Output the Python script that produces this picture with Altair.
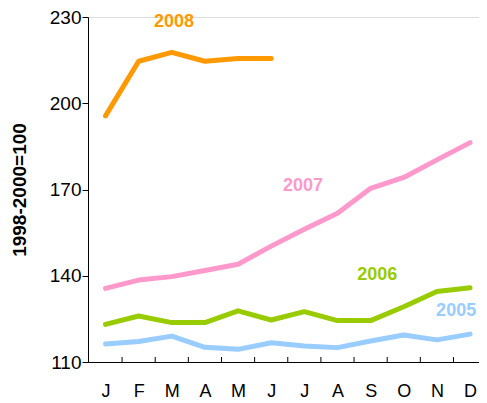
import altair as alt
import pandas as pd

months = ["J", "F", "M", "A", "M", "J", "J", "A", "S", "O", "N", "D"]
month_idx = list(range(12))

years = ["2005", "2006", "2007", "2008"]
colors = ["#99CCFF", "#99CC00", "#FF99CC", "#FF9900"]

v2005 = [116.3, 117.1, 119.0, 115.1, 114.4, 116.7, 115.6, 115.0, 117.3, 119.4, 117.7, 119.7]
v2006 = [123.1, 126.0, 123.7, 123.7, 127.8, 124.6, 127.5, 124.4, 124.4, 129.2, 134.5, 135.8]
v2007 = [135.6, 138.5, 139.7, 141.8, 144.0, 150.3, 156.2, 161.7, 170.4, 174.2, 180.3, 186.3]
v2008 = [195.6, 214.6, 217.7, 214.6, 215.6, 215.6]

label_text = ["2005", "2006", "2007", "2008"]
label_x = [10.58, 8.2, 5.96, 2.07]
label_y = [127.7, 140.1, 171.2, 228.3]

y_ticks = [110, 140, 170, 200, 230]
tick_bounds = [i + 0.5 for i in range(11)]

rows = []
for yr, vals in zip(years, [v2005, v2006, v2007, v2008]):
    for m, v in zip(month_idx, vals):
        rows.append({"year": yr, "m": m, "value": v})
df = pd.DataFrame(rows)

labels_df = pd.DataFrame({"year": label_text, "x": label_x, "y": label_y})
ticks_df = pd.DataFrame({"b": tick_bounds})

FONT = "Liberation Sans"
W, H = 391, 345

xscale = alt.Scale(domain=[-0.528, 11.27], nice=False, zero=False)
yscale = alt.Scale(domain=[110, 230], nice=False, zero=False)
cscale = alt.Scale(domain=years, range=colors)

label_expr = "[" + ",".join("'%s'" % m for m in months) + "][datum.value]"

xaxis = alt.Axis(values=month_idx, labelExpr=label_expr, ticks=False, grid=False,
                 title=None, labelFontSize=18, labelFont=FONT, labelColor="#000",
                 labelPadding=20, domainColor="#000", labelFlush=False,
                 labelOverlap=False, labelBound=False)
yaxis = alt.Axis(values=y_ticks, grid=False, tickSize=6, tickColor="#000",
                 domainColor="#000", labelFontSize=19, labelFont=FONT,
                 labelColor="#000", labelPadding=1, labelOverlap=False,
                 title="1998-2000=100", titleFont=FONT, titleFontSize=19,
                 titleFontWeight="bold", titleColor="#000", titlePadding=20)

lines = alt.Chart(df).mark_line(strokeWidth=5, strokeJoin="round", strokeCap="round").encode(
    x=alt.X("m:Q", scale=xscale, axis=xaxis),
    y=alt.Y("value:Q", scale=yscale, axis=yaxis),
    color=alt.Color("year:N", scale=cscale, legend=None),
    detail="year:N",
)

xticks = alt.Chart(ticks_df).mark_rule(color="#000", strokeWidth=1).encode(
    x=alt.X("b:Q", scale=xscale, axis=xaxis),
    y=alt.value(H),
    y2=alt.value(H - 5),
)

texts = alt.Chart(labels_df).mark_text(fontSize=18, fontWeight="bold", font=FONT).encode(
    x=alt.X("x:Q", scale=xscale, axis=xaxis),
    y=alt.Y("y:Q", scale=yscale, axis=yaxis),
    text="year:N",
    color=alt.Color("year:N", scale=cscale, legend=None),
)

chart = alt.layer(lines, xticks, texts).properties(
    width=W, height=H,
    autosize=alt.AutoSizeParams(type="none"),
    padding={"left": 80, "top": 9, "right": 0, "bottom": 38},
).configure_view(stroke=None).configure(background="white")

chart.save("out.html", embed_options={"renderer": "svg", "actions": False})
